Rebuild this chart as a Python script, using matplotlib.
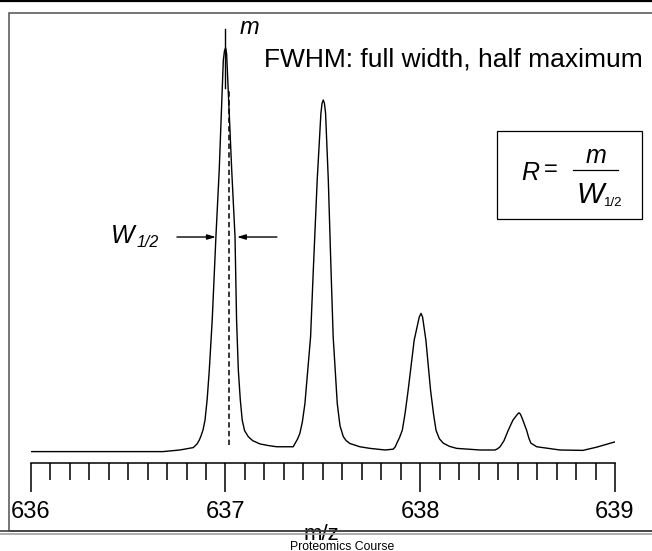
import matplotlib
matplotlib.use("Agg")
import matplotlib.pyplot as plt
from matplotlib.patches import Rectangle
from matplotlib.lines import Line2D

plt.rcParams['font.family'] = ['Liberation Sans', 'DejaVu Sans']

# isotope envelope (relative intensity, peak 1 = 100)
mz = [636.000, 636.356, 636.679, 636.766, 636.835, 636.854, 636.865, 636.873,
      636.885, 636.895, 636.906, 636.917, 636.932, 636.951, 636.968, 636.989,
      636.995, 637.001, 637.006, 637.032, 637.049, 637.057, 637.066, 637.076,
      637.086, 637.098, 637.117, 637.140, 637.177, 637.220, 637.263, 637.348,
      637.357, 637.370, 637.382, 637.395, 637.408, 637.437, 637.451, 637.471,
      637.490, 637.496, 637.502, 637.508, 637.514, 637.528, 637.542, 637.553,
      637.574, 637.588, 637.605, 637.620, 637.639, 637.690, 637.742, 637.819,
      637.861, 637.872, 637.879, 637.893, 637.908, 637.922, 637.938, 637.969,
      637.995, 638.004, 638.012, 638.029, 638.053, 638.068, 638.081, 638.098,
      638.118, 638.150, 638.187, 638.307, 638.384, 638.397, 638.410, 638.430,
      638.452, 638.476, 638.500, 638.507, 638.514, 638.523, 638.546, 638.558,
      638.568, 638.598, 638.717, 638.835, 638.906, 638.999]
intensity = [0.1, 0.1, 0.1, 0.5, 1.1, 2.0, 2.9, 3.8,
             5.5, 7.9, 13.0, 20.3, 32.7, 53.3, 69.8, 97.0,
             99.3, 100.0, 98.5, 69.8, 53.3, 32.7, 20.3, 13.0,
             7.9, 5.3, 3.8, 2.8, 2.0, 1.6, 1.3, 1.3,
             2.1, 3.2, 4.6, 7.5, 12.0, 28.5, 45.0, 67.3,
             83.8, 86.3, 87.1, 86.3, 83.8, 67.3, 45.0, 28.5,
             12.0, 6.5, 3.8, 2.8, 2.1, 1.3, 0.9, 0.5,
             0.7, 1.3, 2.1, 3.5, 5.4, 9.5, 15.3, 27.7,
             33.4, 34.3, 33.4, 27.7, 15.3, 9.5, 5.4, 3.3,
             2.2, 1.4, 0.9, 0.5, 0.5, 0.8, 1.3, 2.8,
             5.4, 7.9, 9.4, 9.7, 9.4, 8.4, 5.4, 3.4,
             2.2, 1.3, 0.5, 0.4, 1.2, 2.5]

major_ticks = [636, 637, 638, 639]
tick_labels = ["636", "637", "638", "639"]
minor_ticks = [636 + i / 10 for i in range(31)]

peak_mz = 637.0          # the "m" marker
centroid_mz = 637.018    # dashed line
half_max = 53.2          # where W1/2 is measured
fwhm_left = 636.951
fwhm_right = 637.059

W, H = 652, 551
def fx(x):
    return x / W
def fy(y):
    return 1 - y / H

fig = plt.figure(figsize=(6.52, 5.51), dpi=100)

# slide frame and header / footer rules
fig.patches.append(Rectangle((fx(9.3), fy(531)), fx(700) - fx(9.3), fy(12.7) - fy(531),
                             transform=fig.transFigure, fill=False,
                             edgecolor='#505050', linewidth=1.1, zorder=0))
fig.lines.append(Line2D([0, 1], [fy(0.7), fy(0.7)], transform=fig.transFigure,
                        color='black', linewidth=1.6))

ax = fig.add_axes([fx(30.7), fy(463), fx(615) - fx(30.7), fy(20) - fy(463)])
ax.plot(mz, intensity, color='black', linewidth=1.0)
ax.plot([centroid_mz, centroid_mz], [1.7, 90.1], color='black', linewidth=1.1,
        linestyle=(0, (3.5, 2.2)))
ax.plot([peak_mz, peak_mz], [90.1, 104.7], color='black', linewidth=1.0)

ax.set_xlim(636, 639)
ax.set_ylim(-2.72, 106.9)
for s in ['top', 'left', 'right']:
    ax.spines[s].set_visible(False)
ax.spines['bottom'].set_linewidth(1.1)
ax.set_yticks([])
ax.set_xticks(major_ticks)
ax.set_xticklabels(tick_labels)
ax.set_xticks(minor_ticks, minor=True)
ax.tick_params(axis='x', which='major', direction='out', length=21, width=1.1,
               labelsize=17, pad=6.5)
ax.tick_params(axis='x', which='minor', direction='out', length=12, width=1.1)
ax.patch.set_visible(False)

# FWHM arrows
arrow = dict(arrowstyle='-|>,head_length=0.5,head_width=0.15', color='black', lw=1.0,
             shrinkA=0, shrinkB=0)
ax.annotate('', xy=(fwhm_left, half_max), xytext=(636.751, half_max), arrowprops=arrow)
ax.annotate('', xy=(fwhm_right, half_max), xytext=(637.264, half_max), arrowprops=arrow)

fig.text(fx(111), fy(236), 'W', fontstyle='italic', fontsize=18, ha='left', va='center')
fig.text(fx(137), fy(242), '1/2', fontstyle='italic', fontsize=11.5, ha='left', va='center')
fig.text(fx(240), fy(28), 'm', fontstyle='italic', fontsize=17, ha='left', va='center')
fig.text(fx(264), fy(60), 'FWHM: full width, half maximum', fontsize=19,
         ha='left', va='center')

# resolution formula box
fig.patches.append(Rectangle((fx(496.7), fy(219)), fx(641.7) - fx(496.7), fy(131) - fy(219),
                             transform=fig.transFigure, fill=False,
                             edgecolor='black', linewidth=0.9))
fig.text(fx(521), fy(173), 'R', fontstyle='italic', fontsize=18, ha='left', va='center')
fig.text(fx(544), fy(170), '=', fontsize=17, ha='left', va='center')
fig.text(fx(596), fy(156), 'm', fontstyle='italic', fontsize=18, ha='center', va='center')
fig.lines.append(Line2D([fx(573), fx(618)], [fy(170), fy(170)], transform=fig.transFigure,
                        color='black', linewidth=0.9))
fig.text(fx(576), fy(195), 'W', fontstyle='italic', fontsize=21, ha='left', va='center')
fig.text(fx(604), fy(203), '1/2', fontsize=9.5, ha='left', va='center')

# footer
fig.text(fx(321), fy(540), 'm/z', fontsize=16, ha='center', va='baseline', zorder=1)
fig.lines.append(Line2D([0, 1], [fy(531), fy(531)], transform=fig.transFigure,
                        color='#404040', linewidth=1.2, zorder=3))
fig.lines.append(Line2D([0, 1], [fy(533.5), fy(533.5)], transform=fig.transFigure,
                        color='#a0a0a0', linewidth=1.2, zorder=3))
fig.text(fx(342), fy(546.5), 'Proteomics Course', fontsize=8.8, ha='center', va='center')

fig.savefig('out.png', dpi=100)
